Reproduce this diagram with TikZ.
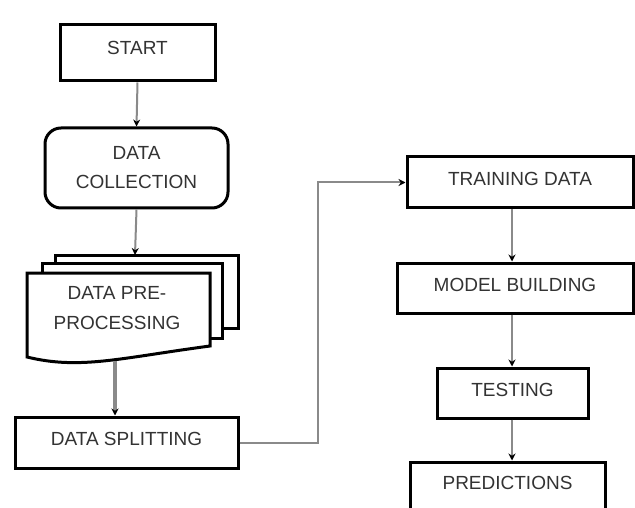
\documentclass[tikz,border=0pt]{standalone}
\usepackage{fontspec}
\setmainfont{Liberation Sans}
\usetikzlibrary{arrows.meta}
\definecolor{txt}{HTML}{333333}
\definecolor{conn}{HTML}{8A8A8A}
\begin{document}
\begin{tikzpicture}[x=1pt,y=-1pt,
  box/.style={draw=black,line width=3pt,fill=white,text=txt,align=center,
    font=\fontsize{19}{29}\selectfont,inner sep=0pt},
  one/.style={text depth=7pt},
  link/.style={draw=conn,line width=2pt,-{Stealth[length=7pt,width=7pt,black]}},
  sheet/.style={draw=black,line width=3pt,fill=white,line join=miter}]
\useasboundingbox (0,0) rectangle (635,508);
\fill[white] (0,0) rectangle (635,508);
% left column
\node[box,text depth=10pt,minimum width=155pt,minimum height=56pt] (start) at (137.5,53) {START};
\node[box,rounded corners=16pt,minimum width=183pt,minimum height=80pt] (dc) at (136.5,168) {DATA\\COLLECTION};
% multi-document
\draw[sheet] (55,255) rectangle (238,328);
\draw[sheet] (42,263) rectangle (222,338);
\draw[sheet] (27,273) -- (210,273) -- (210,346) .. controls (120,358) and (80,370) .. (27,357) -- cycle;
\node[text=txt,align=center,font=\fontsize{19}{30}\selectfont,inner sep=0pt] (pre) at (117,308) {DATA PRE-\\PROCESSING};
\coordinate (pretop) at (135,255);
\coordinate (prebot) at (115,361);
\node[box,one,minimum width=223pt,minimum height=51pt] (ds) at (126.5,442.5) {DATA SPLITTING};
% right column
\node[box,one,minimum width=226pt,minimum height=51pt] (td) at (520,182.5) {TRAINING DATA};
\node[box,one,minimum width=236pt,minimum height=50pt] (mb) at (515,288) {MODEL BUILDING};
\node[box,one,minimum width=151pt,minimum height=50pt] (te) at (512.5,393) {TESTING};
\node[box,text depth=14pt,minimum width=195pt,minimum height=56pt] (pr) at (507.5,490) {PREDICTIONS};
\coordinate (bend) at (318,0);
% connectors
\draw[link] (start.south) -- (dc.north);
\draw[link] (dc.south) -- (pretop);
\draw[link,line width=3.5pt] (prebot) -- (prebot |- ds.north);
\draw[link] (ds.east) -- (ds.east -| bend) |- (td.west);
\draw[link] (td.south -| 512,0) -- (mb.north -| 512,0);
\draw[link] (mb.south -| 512,0) -- (te.north -| 512,0);
\draw[link] (te.south -| 512,0) -- (pr.north -| 512,0);
\end{tikzpicture}
\end{document}
